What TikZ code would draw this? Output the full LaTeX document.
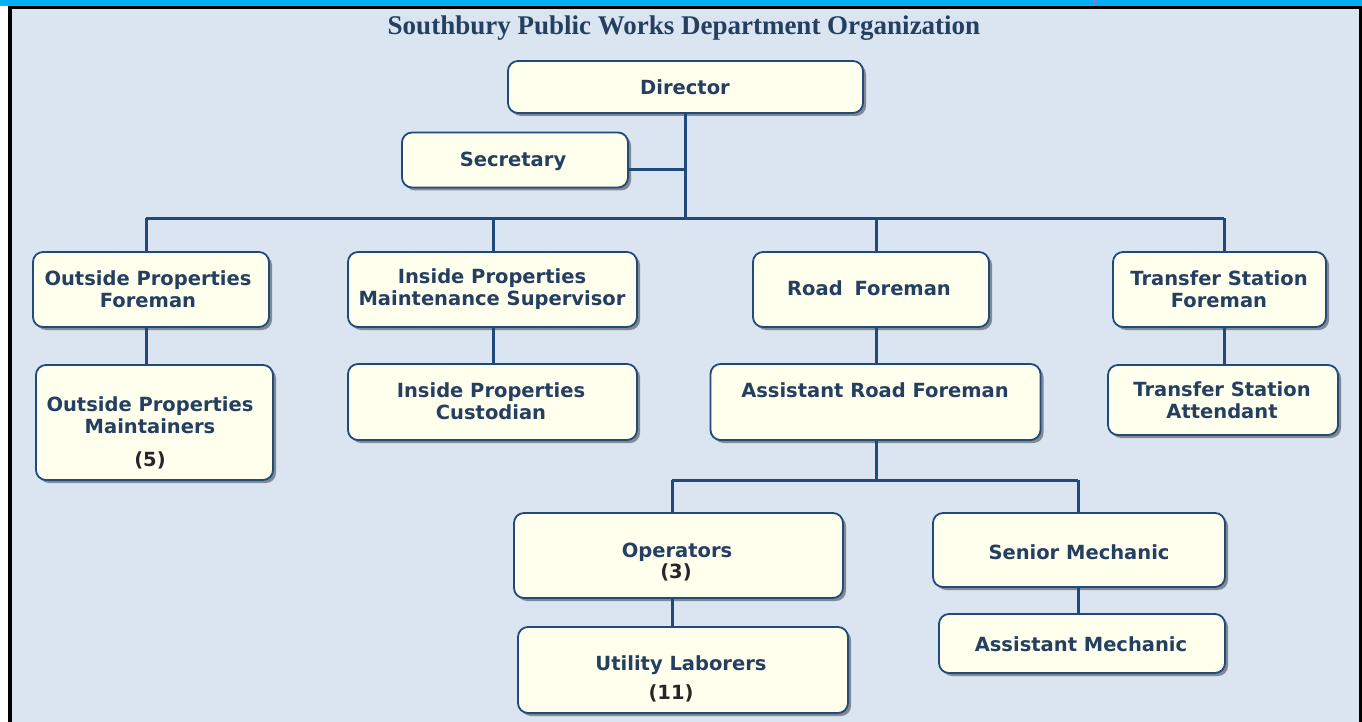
\documentclass[tikz,border=0pt]{standalone}
\usepackage{fontspec}
\setmainfont{DejaVu Sans}
\newfontfamily\titlefont{Liberation Serif}
\usetikzlibrary{shadows}
\definecolor{bgc}{HTML}{DBE5F1}
\definecolor{boxfill}{HTML}{FFFFEE}
\definecolor{edgec}{HTML}{1F4A7A}
\definecolor{txtc}{HTML}{243F60}
\definecolor{numc}{HTML}{262626}
\definecolor{cyanbar}{HTML}{00B0F0}
\definecolor{purpc}{HTML}{A070E0}
\begin{document}
\begin{tikzpicture}[x=1pt,y=-1pt,
  box/.style={draw=edgec, line width=1.8pt, fill=boxfill, rounded corners=10pt, inner sep=0pt,
    drop shadow={shadow xshift=3pt, shadow yshift=-3pt, fill=black, opacity=0.4}},
  lbl/.style={font=\bfseries\fontsize{19.5}{22.5}\selectfont, text=txtc, align=center, inner sep=0pt},
  num/.style={font=\bfseries\fontsize{19.5}{22.5}\selectfont, text=numc, inner sep=0pt},
  conn/.style={draw=edgec, line width=3pt}
]
% frame
\useasboundingbox (0,0) rectangle (1362,722);
\fill[white] (0,0) rectangle (1362,722);
\fill[cyanbar] (0,0) rectangle (1362,5.7);
\draw[purpc, line width=1pt] (0,5.2) -- (1094.5,5.2) -- (1094.5,0);
\fill[bgc] (12,9) rectangle (1359,722);
\fill[black] (8,5.7) rectangle (12,722);
\fill[black] (8,5.7) rectangle (1362,9.3);
\fill[black] (1359,9.3) rectangle (1362,722);

% title
\node[font=\titlefont\bfseries\fontsize{27}{30}\selectfont, text=txtc, inner sep=0pt] (title) at (684,28) {Southbury Public Works Department Organization};

% boxes
\node[box, minimum width=355pt, minimum height=52pt] (dir) at (685.5,87) {};
\node[box, minimum width=226pt, minimum height=55pt] (sec) at (515,160) {};
\node[box, minimum width=236pt, minimum height=75pt] (opf) at (151,289.5) {};
\node[box, minimum width=237pt, minimum height=115pt] (opm) at (154.5,422.5) {};
\node[box, minimum width=289pt, minimum height=75pt] (ipm) at (492.5,289.5) {};
\node[box, minimum width=289pt, minimum height=76pt] (ipc) at (492.5,402) {};
\node[box, minimum width=236pt, minimum height=75pt] (rf) at (871,289.5) {};
\node[box, minimum width=330pt, minimum height=76pt] (arf) at (875.5,402) {};
\node[box, minimum width=213pt, minimum height=75pt] (tsf) at (1219.5,289.5) {};
\node[box, minimum width=230pt, minimum height=70pt] (tsa) at (1223,400) {};
\node[box, minimum width=329pt, minimum height=85pt] (ops) at (678.5,555.5) {};
\node[box, minimum width=330pt, minimum height=86pt] (ul) at (683,670) {};
\node[box, minimum width=292pt, minimum height=74pt] (sm) at (1079,550) {};
\node[box, minimum width=286pt, minimum height=59pt] (am) at (1082,643.5) {};

% texts
\node[lbl] (dirt) at (685,87) {Director};
\node[lbl] (sect) at (513,161.5) {Secretary};
\node[lbl] (opft) at (148,289) {Outside Properties\\Foreman};
\node[lbl] (opmt) at (150,415) {Outside Properties\\Maintainers};
\node[num] (opmn) at (150,460) {(5)};
\node[lbl] (ipmt) at (492,289) {Inside Properties\\Maintenance Supervisor};
\node[lbl] (ipct) at (491,401) {Inside Properties\\Custodian};
\node[lbl] (rft) at (869,288) {Road\hspace{12pt}Foreman};
\node[lbl] (arft) at (875,390) {Assistant Road Foreman};
\node[lbl] (tsft) at (1219,289) {Transfer Station\\Foreman};
\node[lbl] (tsat) at (1222,400) {Transfer Station\\Attendant};
\node[lbl] (opst) at (677,552) {Operators};
\node[num] (opsn) at (676,572) {(3)};
\node[lbl] (ult) at (681,665) {Utility Laborers};
\node[num] (uln) at (671,693) {(11)};
\node[lbl] (smt) at (1079,552) {Senior Mechanic};
\node[lbl] (amt) at (1081,644) {Assistant Mechanic};

% junctions
\coordinate (jd) at (685,218);
\coordinate (js) at (685,170);
\coordinate (b1) at (146,218);
\coordinate (b2) at (493,218);
\coordinate (b3) at (876,218);
\coordinate (b4) at (1224,218);
\coordinate (jr) at (876,480);
\coordinate (jo) at (672,480);
\coordinate (jm) at (1078,480);

% connectors
\draw[conn] (jd |- dir.south) -- (jd);
\draw[conn] (js -| sec.east) -- (js);
\draw[conn] (b1) -- (b4);
\draw[conn] (b1) -- (b1 |- opf.north);
\draw[conn] (b2) -- (b2 |- ipm.north);
\draw[conn] (b3) -- (b3 |- rf.north);
\draw[conn] (b4) -- (b4 |- tsf.north);
\draw[conn] (b1 |- opf.south) -- (b1 |- opm.north);
\draw[conn] (b2 |- ipm.south) -- (b2 |- ipc.north);
\draw[conn] (b3 |- rf.south) -- (b3 |- arf.north);
\draw[conn] (b4 |- tsf.south) -- (b4 |- tsa.north);
\draw[conn] (jr |- arf.south) -- (jr);
\draw[conn] (jo) -- (jm);
\draw[conn] (jo) -- (jo |- ops.north);
\draw[conn] (jm) -- (jm |- sm.north);
\draw[conn] (jo |- ops.south) -- (jo |- ul.north);
\draw[conn] (jm |- sm.south) -- (jm |- am.north);
\end{tikzpicture}
\end{document}
